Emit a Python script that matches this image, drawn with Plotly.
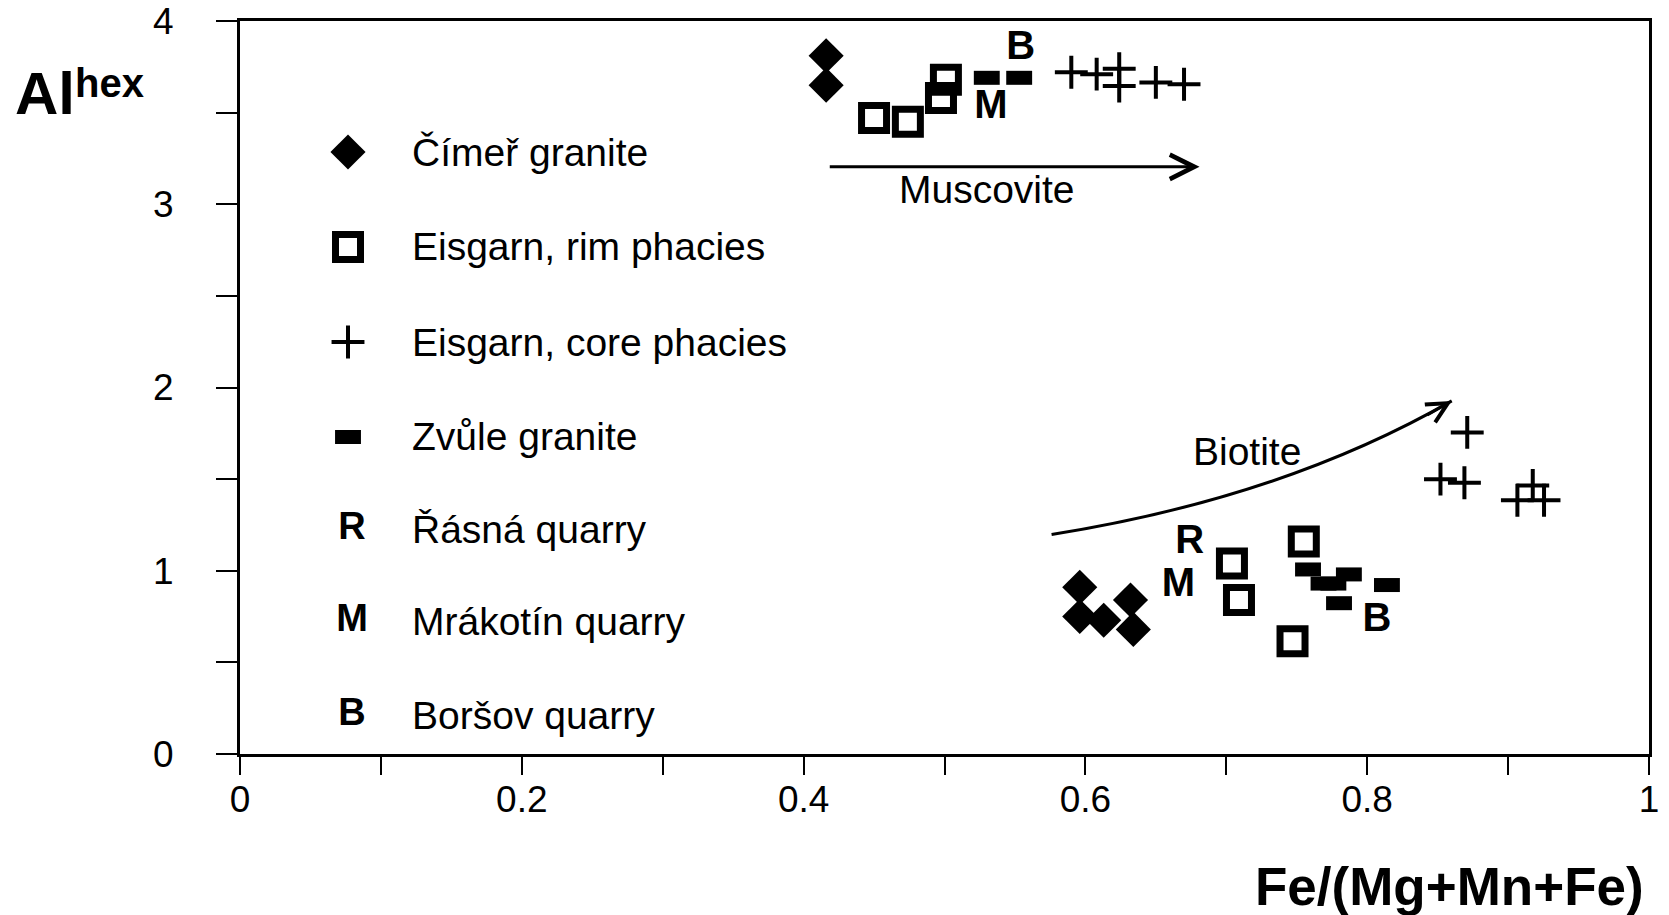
import plotly.graph_objects as go

# ---- data: Fe/(Mg+Mn+Fe) vs Al(hex) for micas ----
# Čímeř granite (filled diamonds)
cimer_x = [0.416, 0.416, 0.596, 0.596, 0.613, 0.632, 0.634]
cimer_y = [3.81, 3.65, 0.91, 0.75, 0.73, 0.84, 0.68]

# Eisgarn granite, rim facies (open squares)
rim_x = [0.450, 0.474, 0.4975, 0.501, 0.704, 0.709, 0.755, 0.747]
rim_y = [3.47, 3.45, 3.58, 3.68, 1.04, 0.84, 1.16, 0.615]

# Eisgarn granite, core facies (crosses)
core_x = [0.590, 0.608, 0.624, 0.624, 0.650, 0.670, 0.871, 0.852, 0.869, 0.9175, 0.9066, 0.9255]
core_y = [3.72, 3.71, 3.74, 3.645, 3.665, 3.655, 1.755, 1.50, 1.48, 1.465, 1.385, 1.385]

# Zvůle granite (filled bars)
zvule_x = [0.530, 0.553, 0.758, 0.769, 0.776, 0.787, 0.780, 0.814]
zvule_y = [3.69, 3.69, 1.007, 0.93, 0.93, 0.98, 0.823, 0.922]

# quarry letters placed next to the analysed groups
label_text = ["B", "M", "R", "M", "B"]
label_x = [0.554, 0.533, 0.674, 0.666, 0.807]
label_y = [3.85, 3.525, 1.151, 0.919, 0.727]

series_names = ["Čímeř granite", "Eisgarn, rim phacies", "Eisgarn, core phacies", "Zvůle granite"]
quarry_letters = ["R", "M", "B"]
quarry_names = ["Řásná quarry", "Mrákotín quarry", "Boršov quarry"]

x_ticks = [0, 0.2, 0.4, 0.6, 0.8, 1]
y_ticks = [0, 1, 2, 3, 4]

# ---- page geometry ----
W, H = 1669, 915
ML, MR, MT, MB = 240, 20, 21, 161
FONT = "Liberation Sans, Arial, Helvetica, sans-serif"


def px_x(px):
    return (px - ML) / (W - ML - MR)


def px_y(py):
    return (H - MB - py) / (H - MT - MB)


diamond = dict(symbol="diamond", size=27, color="black", line=dict(width=0))
square = dict(symbol="square-open", size=25, color="black", line=dict(width=7, color="black"))
cross = dict(symbol="cross-thin", size=23.5, color="black", line=dict(width=4, color="black"))
bar = dict(symbol="line-ew", size=18.5, color="black", line=dict(width=14, color="black"))
styles = [diamond, square, cross, bar]

fig = go.Figure()

for name, xs, ys, mk in zip(series_names, [cimer_x, rim_x, core_x, zvule_x],
                            [cimer_y, rim_y, core_y, zvule_y], styles):
    fig.add_trace(go.Scatter(x=xs, y=ys, mode="markers", name=name, marker=mk,
                             showlegend=False, cliponaxis=False))

fig.add_trace(go.Scatter(x=label_x, y=label_y, mode="text", text=label_text,
                         textposition="middle center", showlegend=False,
                         textfont=dict(family=FONT, size=40, color="black", weight="bold")))

# ---- hand-built key in the upper left of the plot area ----
legend_rows = [152, 247, 342, 437, 529, 621, 715]
key_sym_x = px_x(348)
key_txt_x = px_x(410)

for i, mk in enumerate(styles):
    fig.add_trace(go.Scatter(x=[key_sym_x], y=[px_y(legend_rows[i])], mode="markers",
                             marker=mk, xaxis="x2", yaxis="y2", showlegend=False,
                             cliponaxis=False, hoverinfo="skip"))

fig.add_trace(go.Scatter(x=[px_x(352)] * len(quarry_letters),
                         y=[px_y(r) for r in legend_rows[4:]],
                         mode="text", text=quarry_letters, xaxis="x2", yaxis="y2",
                         showlegend=False, hoverinfo="skip", cliponaxis=False,
                         textfont=dict(family=FONT, size=38, color="black", weight="bold")))

annotations = []
for name, row in zip(series_names + quarry_names, legend_rows):
    annotations.append(dict(xref="paper", yref="paper", x=key_txt_x, y=px_y(row),
                            text=name, showarrow=False, xanchor="left", yanchor="middle",
                            font=dict(family=FONT, size=39, color="black")))

# trend arrows and their labels
annotations.append(dict(xref="x", yref="y", axref="x", ayref="y",
                        x=0.681, y=3.204, ax=0.4175, ay=3.204, text="",
                        showarrow=True, arrowhead=5, arrowsize=1.6, arrowwidth=3,
                        arrowcolor="black", standoff=0))
annotations.append(dict(xref="x", yref="y", x=0.530, y=3.08, text="Muscovite",
                        showarrow=False, font=dict(family=FONT, size=39, color="black")))

bio_start = (0.576, 1.198)
bio_ctrl = (0.740, 1.398)
bio_tip = (0.860, 1.927)
annotations.append(dict(xref="x", yref="y", x=bio_tip[0], y=bio_tip[1],
                        ax=-26, ay=15, text="", showarrow=True, arrowhead=5,
                        arrowsize=1.35, arrowwidth=3, arrowcolor="black", standoff=0))
annotations.append(dict(xref="x", yref="y", x=0.715, y=1.651, text="Biotite",
                        showarrow=False, font=dict(family=FONT, size=39, color="black")))

# axis titles
annotations.append(dict(xref="paper", yref="paper", x=px_x(13), y=px_y(93.5), text="Al",
                        showarrow=False, xanchor="left", yanchor="middle",
                        font=dict(family=FONT, size=60, color="black", weight="bold")))
annotations.append(dict(xref="paper", yref="paper", x=px_x(73), y=px_y(82.5), text="hex",
                        showarrow=False, xanchor="left", yanchor="middle",
                        font=dict(family=FONT, size=40, color="black", weight="bold")))
annotations.append(dict(xref="paper", yref="paper", x=px_x(1646), y=px_y(886),
                        text="Fe/(Mg+Mn+Fe)", showarrow=False, xanchor="right",
                        yanchor="middle",
                        font=dict(family=FONT, size=53, color="black", weight="bold")))

shapes = [dict(type="path", xref="x", yref="y",
               path=(f"M {bio_start[0]},{bio_start[1]} "
                     f"Q {bio_ctrl[0]},{bio_ctrl[1]} {bio_tip[0]},{bio_tip[1]}"),
               line=dict(color="black", width=3))]

axis_common = dict(showline=True, linewidth=3, linecolor="black", mirror=True,
                   showgrid=False, zeroline=False, ticks="outside", tickwidth=2,
                   automargin=False, tickcolor="black",
                   tickfont=dict(family=FONT, size=37, color="black"))

fig.update_layout(
    width=W, height=H,
    margin=dict(l=ML, r=MR, t=MT, b=MB, pad=0, autoexpand=False),
    paper_bgcolor="white", plot_bgcolor="white",
    showlegend=False,
    xaxis=dict(range=[0, 1], tickvals=x_ticks, ticklen=18, ticklabelstandoff=-7,
               minor=dict(dtick=0.1, tick0=0, ticks="outside", ticklen=18, tickwidth=2,
                          tickcolor="black", showgrid=False),
               **axis_common),
    yaxis=dict(range=[0, 4], tickvals=y_ticks, ticklen=21, ticklabelstandoff=35,
               minor=dict(dtick=0.5, tick0=0, ticks="outside", ticklen=21, tickwidth=2,
                          tickcolor="black", showgrid=False),
               **axis_common),
    xaxis2=dict(overlaying="x", range=[0, 1], visible=False),
    yaxis2=dict(overlaying="y", range=[0, 1], visible=False),
    annotations=annotations,
    shapes=shapes,
)

fig.write_html("out.html")
